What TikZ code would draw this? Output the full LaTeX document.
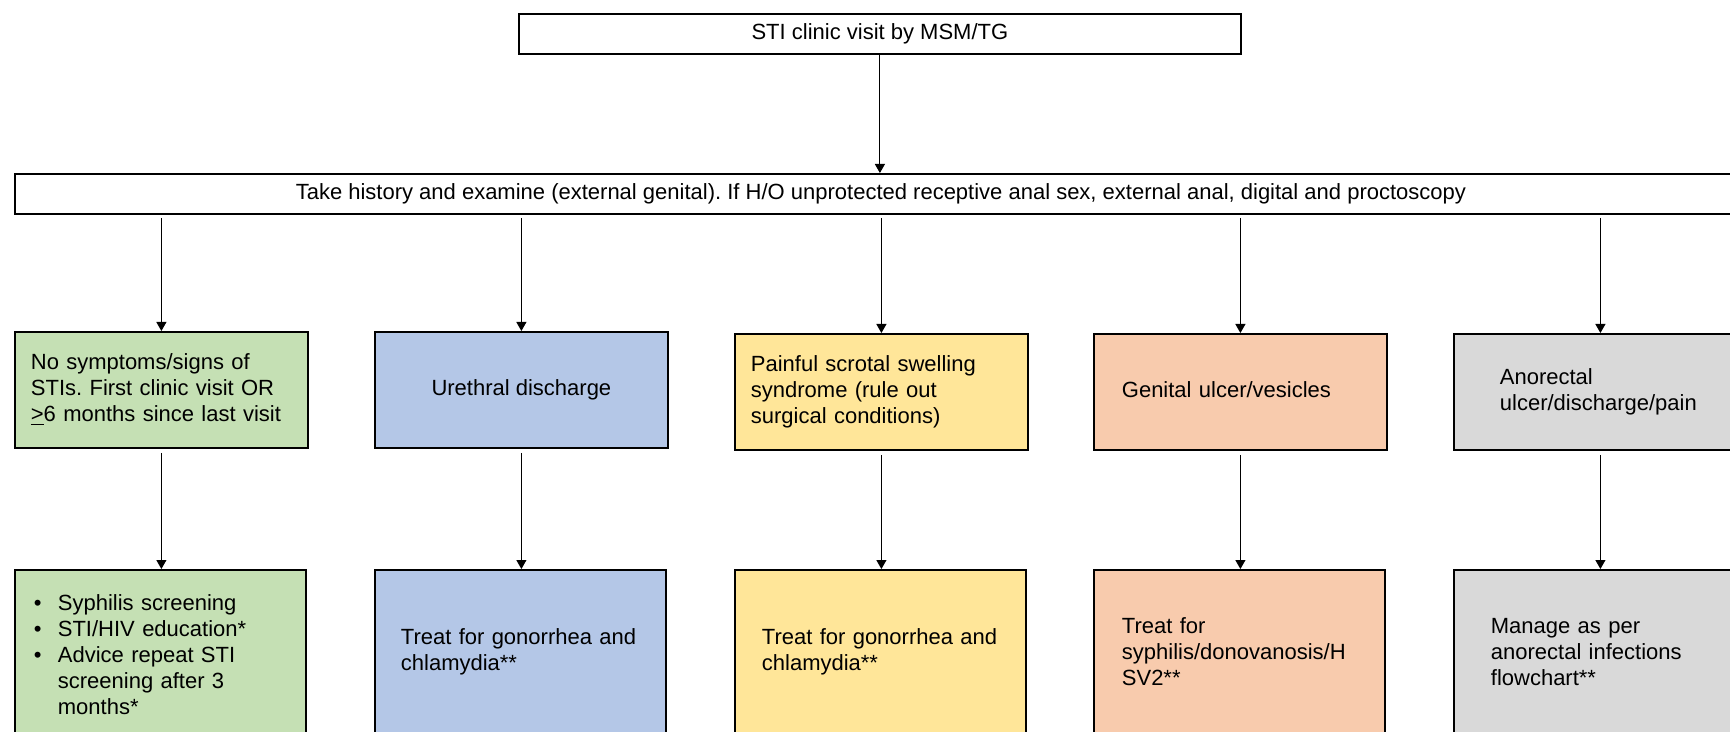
\documentclass[tikz,border=0pt]{standalone}
\usepackage{fontspec}
\setmainfont{Liberation Sans}
\usetikzlibrary{arrows.meta,calc}
\frenchspacing

\definecolor{boxgreen}{HTML}{C5E0B4}
\definecolor{boxblue}{HTML}{B4C7E7}
\definecolor{boxyellow}{HTML}{FFE699}
\definecolor{boxorange}{HTML}{F8CBAD}
\definecolor{boxgray}{HTML}{D9D9D9}

\tikzset{
  box/.style={draw=black, line width=0.9pt, anchor=north west, inner ysep=0pt,
    font=\fontsize{11}{13}\selectfont},
  rowone/.style={box, minimum width=146.5pt, minimum height=58pt},
  rowtwo/.style={box, minimum width=145.5pt, minimum height=82pt},
  flow/.style={draw=black, line width=0.5pt, -{Triangle[width=5pt,length=4.5pt]}},
}

\begin{document}
\begin{tikzpicture}[x=0.5pt, y=-0.5pt]
  \useasboundingbox (0,0) rectangle (1730,732);
  \clip (0,0) rectangle (1730,732);

  % entry and assessment
  \node[box, minimum width=361pt, minimum height=20pt, align=center] (visit) at (518,13)
    {STI clinic visit by MSM/TG};
  \node[box, minimum width=866pt, minimum height=20pt, align=center] (hist) at (14,173)
    {Take history and examine (external genital). If H/O unprotected receptive anal sex, external anal, digital and proctoscopy};

  % presenting syndromes
  \node[rowone, fill=boxgreen, align=left, text width=130.5pt, inner xsep=8pt] (s1) at (14,331)
    {No symptoms/signs of\\STIs. First clinic visit OR\\\underline{>}6 months since last visit};
  \node[rowone, fill=boxblue, align=center] (s2) at (374,331)
    {Urethral discharge};
  \node[rowone, fill=boxyellow, align=left, text width=130.5pt, inner xsep=8pt] (s3) at (734,333)
    {Painful scrotal swelling\\syndrome (rule out\\surgical conditions)};
  \node[rowone, fill=boxorange, align=left, text width=118.5pt, inner xsep=14pt] (s4) at (1093,333)
    {\raisebox{2.5pt}{Genital ulcer/vesicles}};
  \node[rowone, fill=boxgray, align=left, text width=100.5pt, inner xsep=23pt] (s5) at (1453,333)
    {Anorectal\\ulcer/discharge/pain};

  % management
  \node[rowtwo, fill=boxgreen, align=left, text width=126.5pt, inner xsep=9.5pt] (m1) at (14,569)
    {\raisebox{-2.5pt}[\height][\depth]{\begin{tabular}{@{}p{12pt}@{}l@{}}
      \textbullet & Syphilis screening\\
      \textbullet & STI/HIV education*\\
      \textbullet & Advice repeat STI\\
                  & screening after 3\\
                  & months*
     \end{tabular}}};
  \node[rowtwo, fill=boxblue, align=left, text width=119.5pt, inner xsep=13pt] (m2) at (374,569)
    {Treat for gonorrhea and\\chlamydia**};
  \node[rowtwo, fill=boxyellow, align=left, text width=118.5pt, inner xsep=13.5pt] (m3) at (734,569)
    {Treat for gonorrhea and\\chlamydia**};
  \node[rowtwo, fill=boxorange, align=left, text width=117.5pt, inner xsep=14pt] (m4) at (1093,569)
    {Treat for\\syphilis/donovanosis/H\\SV2**};
  \node[rowtwo, fill=boxgray, align=left, text width=108.5pt, inner xsep=18.5pt] (m5) at (1453,569)
    {Manage as per\\anorectal infections\\flowchart**};

  % connectors
  \draw[flow] (visit.south) -- (visit.south |- hist.north);
  \foreach \s in {s1,s2,s3,s4,s5}
    \draw[flow, shorten <=1.5pt] (\s.north |- hist.south) -- (\s.north);
  \foreach \s/\m in {s1/m1,s2/m2,s3/m3,s4/m4,s5/m5}
    \draw[flow, shorten <=2pt] (\s.south) -- (\s.south |- \m.north);
\end{tikzpicture}
\end{document}
